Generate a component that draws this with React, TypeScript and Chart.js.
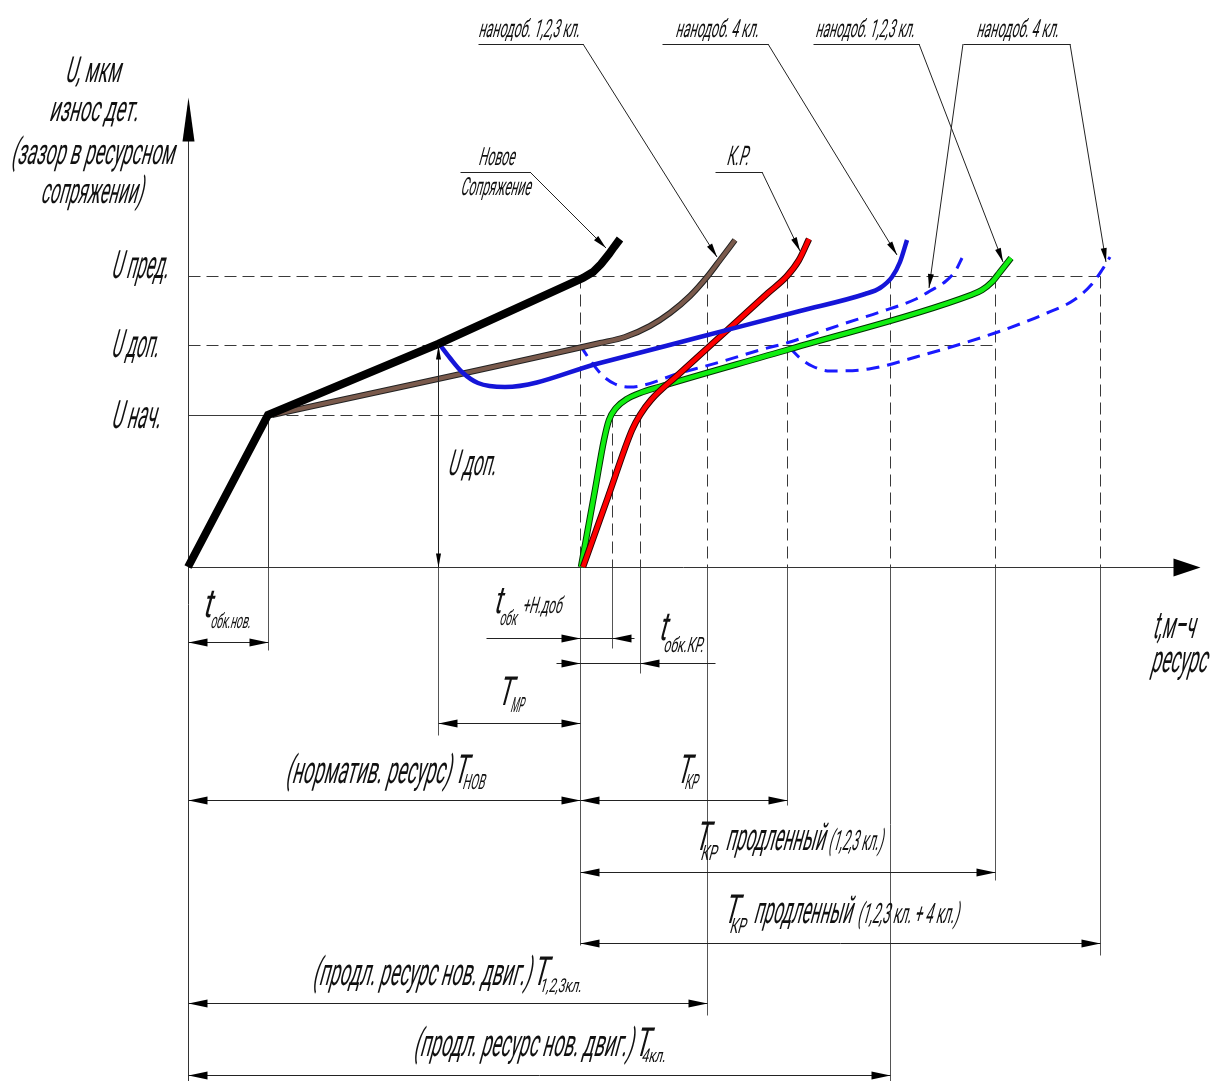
import React, { useEffect, useRef } from "react";
import { Chart, registerables } from "chart.js";

Chart.register(...registerables);

// ---------- characteristic wear levels U ----------
const U_NACH = 152;
const U_DOP = 222;
const U_PRED = 291;

// ---------- characteristic times t (resource) ----------
const T_OBK_NOV = 80;
const T_DOP = 250;
const T_NOV = 392;
const T_OBK_NDOB = 424;
const T_OBK_KR = 452;
const T_123 = 519;
const T_KP = 599;
const T_4 = 702;
const T_KP_123 = 807;
const T_KP_4 = 912;

// ---------- curves: wear U vs resource t ----------
// new mating pair (black)
const newT = [0, 80, 250, 395, 405, 413, 421, 426, 432];
const newU = [0, 152, 223, 289, 295, 303, 313, 320, 328];
// nano-additive 1,2,3 class on new engine (brown)
const brownT = [84, 412, 437, 462, 482, 502, 519, 532, 547];
const brownU = [152, 224, 230, 241, 254, 271, 290, 307, 327];
// nano-additive 4 class on new engine (solid blue)
const blueT = [252, 262, 274, 290, 317, 412, 512, 612, 677, 692, 704, 712, 719];
const blueU = [222, 209, 195, 184, 180, 204, 230, 256, 273, 279, 290, 305, 327];
// overhaul К.Р. (red)
const redT = [395, 420, 444, 452, 463, 491, 546, 580, 599, 611, 621];
const redU = [0, 70, 137, 152, 167, 193, 243, 274, 291, 307, 328];
// nano-additive 1,2,3 class after overhaul (green)
const greenT = [393, 407, 416, 421, 428, 439, 452, 471, 602, 783, 794, 804, 812, 823];
const greenU = [0, 77, 127, 147, 159, 168, 174, 180, 218, 272, 277, 285, 295, 309];
// nano-additive 4 class after overhaul (dashed blue 1)
const dash1T = [392, 402, 414, 427, 442, 492, 532, 572, 602, 652, 692, 728, 742, 758, 768, 774];
const dash1U = [222, 207, 192, 183, 180, 194, 205, 217, 225, 242, 255, 268, 276, 286, 297, 309];
// nano-additive 4 class after overhaul + 1,2,3 class (dashed blue 2)
const dash2T = [602, 612, 624, 642, 681, 728, 807, 859, 886, 904, 914, 922];
const dash2U = [219, 209, 201, 196, 198, 210, 234, 254, 267, 283, 297, 310];

// ---------- axis extents ----------
const T_MIN = -188;
const T_MAX = 1027;
const U_MIN = -514;
const U_MAX = 567;

// ---------- reference (construction) lines ----------
const hRefs = [
  { u: U_PRED, t1: 0, t2: T_KP_4, dashed: true },
  { u: U_DOP, t1: 0, t2: T_KP_123, dashed: true },
  { u: U_NACH, t1: 0, t2: T_OBK_NOV, dashed: false },
  { u: U_NACH, t1: T_OBK_NOV, t2: T_OBK_KR, dashed: true },
];
const vRefs = [
  { t: T_OBK_NOV, top: U_NACH, bottom: -83, dashedTop: false },
  { t: T_DOP, top: U_DOP, bottom: -168, dashedTop: true },
  { t: T_NOV, top: U_PRED, bottom: -378, dashedTop: true },
  { t: T_OBK_NDOB, top: U_NACH, bottom: -81, dashedTop: true },
  { t: T_OBK_KR, top: U_NACH, bottom: -106, dashedTop: true },
  { t: T_123, top: U_PRED, bottom: -448, dashedTop: true },
  { t: T_KP, top: U_PRED, bottom: -238, dashedTop: true },
  { t: T_4, top: U_PRED, bottom: -514, dashedTop: true },
  { t: T_KP_123, top: U_PRED, bottom: -313, dashedTop: true },
  { t: T_KP_4, top: U_PRED, bottom: -388, dashedTop: true },
];

// ---------- dimension lines ----------
const dims = [
  { u: -75, from: 0, to: T_OBK_NOV, arrows: [[0, -1], [T_OBK_NOV, 1]] },
  { u: -71, from: 298, to: 446, arrows: [[T_NOV, 1], [T_OBK_NDOB, -1]] },
  { u: -96, from: 368, to: 527, arrows: [[T_NOV, 1], [T_OBK_KR, -1]] },
  { u: -156, from: T_DOP, to: T_NOV, arrows: [[T_DOP, -1], [T_NOV, 1]] },
  { u: -233, from: 0, to: T_NOV, arrows: [[0, -1], [T_NOV, 1]] },
  { u: -233, from: T_NOV, to: T_KP, arrows: [[T_NOV, -1], [T_KP, 1]] },
  { u: -305, from: T_NOV, to: T_KP_123, arrows: [[T_NOV, -1], [T_KP_123, 1]] },
  { u: -376, from: T_NOV, to: T_KP_4, arrows: [[T_NOV, -1], [T_KP_4, 1]] },
  { u: -436, from: 0, to: T_123, arrows: [[0, -1], [T_123, 1]] },
  { u: -508, from: 0, to: T_4, arrows: [[0, -1], [T_4, 1]] },
];

// ---------- leader shelves and arrows ----------
const leaders = [
  { u: 395, s1: 272, s2: 342, lines: [[342, 418, 319]] },
  { u: 523, s1: 290, s2: 395, lines: [[395, 529, 310]] },
  { u: 523, s1: 474, s2: 580, lines: [[580, 709, 312]] },
  { u: 523, s1: 625, s2: 731, lines: [[731, 815, 305]] },
  { u: 523, s1: 775, s2: 882, lines: [[775, 741, 279], [882, 918, 305]] },
  { u: 395, s1: 527, s2: 574, lines: [[574, 612, 316]] },
];

// ---------- text labels: [text, t, U(baseline), fontSize, width, align] ----------
const labels: [string, number, number, number, number, string][] = [
  ["U, мкм", -96, 485, 36, 55, "center"],
  ["износ дет.", -95, 446, 36, 89, "center"],
  ["(зазор в ресурсном", -96, 403, 36, 163, "center"],
  ["сопряжении)", -97, 364, 36, 102, "center"],
  ["U пред.", -49, 289, 39, 57, "center"],
  ["U доп.", -54, 210, 39, 47, "center"],
  ["U нач.", -53, 139, 39, 49, "center"],
  ["U доп.", 259, 92, 36, 48, "left"],
  ["Новое", 290, 402, 25, 36, "left"],
  ["Сопряжение", 272, 372, 25, 70, "left"],
  ["нанодоб. 1,2,3 кл.", 290, 530, 25, 101, "left"],
  ["нанодоб. 4 кл.", 487, 530, 25, 83, "left"],
  ["нанодоб. 1,2,3 кл.", 627, 530, 25, 99, "left"],
  ["нанодоб. 4 кл.", 788, 530, 25, 82, "left"],
  ["К.Р.", 538, 402, 27, 22, "left"],
  ["t", 14, -50, 40, 9, "left"],
  ["обк.нов.", 22, -61, 21, 40, "left"],
  ["t", 305, -46, 38, 8, "left"],
  ["обк", 311, -58, 21, 17, "left"],
  ["+Н.доб", 334, -46, 23, 39, "left"],
  ["t", 470, -73, 40, 8, "left"],
  ["обк.КР.", 475, -85, 21, 40, "left"],
  ["T", 309, -138, 40, 14, "left"],
  ["МР", 322, -145, 21, 13, "left"],
  ["(норматив. ресурс)", 97, -216, 38, 165, "left"],
  ["T", 265, -216, 40, 13, "left"],
  ["НОВ", 274, -222, 21, 22, "left"],
  ["T", 488, -216, 40, 13, "left"],
  ["КР", 496, -222, 21, 13, "left"],
  ["T", 506, -283, 40, 14, "left"],
  ["КР", 512, -293, 21, 16, "left"],
  ["продленный", 537, -283, 38, 99, "left"],
  ["(1,2,3 кл.)", 640, -283, 28, 54, "left"],
  ["T", 535, -356, 40, 14, "left"],
  ["КР", 541, -366, 21, 16, "left"],
  ["продленный", 565, -356, 38, 98, "left"],
  ["(1,2,3 кл. + 4 кл.)", 669, -356, 28, 101, "left"],
  ["(продл. ресурс нов. двиг.)", 124, -418, 38, 218, "left"],
  ["T", 344, -418, 40, 14, "left"],
  ["1,2,3кл.", 351, -425, 19, 42, "left"],
  ["(продл. ресурс нов. двиг.)", 225, -489, 38, 219, "left"],
  ["T", 446, -489, 40, 14, "left"],
  ["4кл.", 453, -495, 19, 24, "left"],
  ["t,м–ч", 964, -71, 38, 42, "left"],
  ["ресурс", 962, -105, 38, 56, "left"],
];

const FONT = 'Roboto, "DejaVu Sans", sans-serif';
const SLANT = -0.27;

function pts(ts: number[], us: number[]) {
  return ts.map((t, i) => ({ x: t, y: us[i] }));
}

function arrowHead(ctx: CanvasRenderingContext2D, x: number, y: number, dx: number, dy: number, len: number, half: number) {
  const px = -dy, py = dx;
  ctx.beginPath();
  ctx.moveTo(x, y);
  ctx.lineTo(x - dx * len + px * half, y - dy * len + py * half);
  ctx.lineTo(x - dx * len - px * half, y - dy * len - py * half);
  ctx.closePath();
  ctx.fill();
}

function line(ctx: CanvasRenderingContext2D, x1: number, y1: number, x2: number, y2: number) {
  ctx.beginPath();
  ctx.moveTo(x1, y1);
  ctx.lineTo(x2, y2);
  ctx.stroke();
}

const drawingPlugin = {
  id: "drawing",
  beforeDatasetsDraw(chart: any) {
    const ctx: CanvasRenderingContext2D = chart.ctx;
    const X = (v: number) => Math.round(chart.scales.x.getPixelForValue(v)) + 0.5;
    const Y = (v: number) => Math.round(chart.scales.y.getPixelForValue(v)) + 0.5;
    ctx.save();
    ctx.lineWidth = 1;
    ctx.strokeStyle = "#3a3a3a";
    for (const r of hRefs) {
      ctx.setLineDash(r.dashed ? [12, 6] : []);
      line(ctx, X(r.t1), Y(r.u), X(r.t2), Y(r.u));
    }
    for (const v of vRefs) {
      ctx.setLineDash(v.dashedTop ? [12, 6] : []);
      line(ctx, X(v.t), Y(v.top), X(v.t), Y(0));
      ctx.setLineDash([]);
      ctx.strokeStyle = "#555";
      line(ctx, X(v.t), Y(0), X(v.t), Y(v.bottom));
      ctx.strokeStyle = "#3a3a3a";
    }
    ctx.setLineDash([]);
    // axes
    ctx.strokeStyle = "#333";
    line(ctx, X(0), Y(440), X(0), Y(U_MIN));
    line(ctx, X(0), Y(0), X(990), Y(0));
    ctx.fillStyle = "#000";
    arrowHead(ctx, X(0), Y(470), 0, -1, 44, 6);
    arrowHead(ctx, X(1012), Y(0), 1, 0, 27, 9);
    ctx.restore();
  },
  afterDatasetsDraw(chart: any) {
    const ctx: CanvasRenderingContext2D = chart.ctx;
    const Xr = (v: number) => chart.scales.x.getPixelForValue(v);
    const Yr = (v: number) => chart.scales.y.getPixelForValue(v);
    const X = (v: number) => Math.round(Xr(v)) + 0.5;
    const Y = (v: number) => Math.round(Yr(v)) + 0.5;
    ctx.save();
    ctx.lineWidth = 1;
    ctx.strokeStyle = "#222";
    ctx.fillStyle = "#000";
    // dimension lines
    for (const d of dims) {
      line(ctx, X(d.from), Y(d.u), X(d.to), Y(d.u));
      for (const [t, dir] of d.arrows) arrowHead(ctx, X(t), Y(d.u), dir, 0, 19, 4);
    }
    // vertical dimension U доп
    line(ctx, X(T_DOP), Y(0), X(T_DOP), Y(U_DOP));
    arrowHead(ctx, X(T_DOP), Y(U_DOP), 0, -1, 14, 2.5);
    arrowHead(ctx, X(T_DOP), Y(0), 0, 1, 14, 2.5);
    // leaders
    for (const l of leaders) {
      line(ctx, X(l.s1), Y(l.u), X(l.s2), Y(l.u));
      for (const [from, tt, tu] of l.lines) {
        const x1 = Xr(from), y1 = Yr(l.u), x2 = Xr(tt), y2 = Yr(tu);
        line(ctx, x1, y1, x2, y2);
        const len = Math.hypot(x2 - x1, y2 - y1);
        arrowHead(ctx, x2, y2, (x2 - x1) / len, (y2 - y1) / len, 14, 3);
      }
    }
    // labels
    ctx.fillStyle = "#111";
    ctx.textBaseline = "alphabetic";
    ctx.textAlign = "left";
    for (const [text, t, u, size, w, align] of labels) {
      ctx.font = `400 ${size}px ${FONT}`;
      const m = ctx.measureText(text).width;
      const sx = w / m;
      let x0 = Xr(t);
      if (align === "center") x0 -= w / 2;
      else if (align === "right") x0 -= w;
      ctx.save();
      ctx.setTransform(sx, 0, SLANT, 1, x0, Yr(u));
      ctx.fillText(text, 0, 0);
      ctx.restore();
    }
    ctx.restore();
  },
};

export default function App() {
  const ref = useRef<HTMLCanvasElement | null>(null);
  useEffect(() => {
    if (!ref.current) return;
    const base = { pointRadius: 0, fill: false, tension: 0 };
    const mono = { pointRadius: 0, fill: false, cubicInterpolationMode: "monotone" as const };
    const chart = new Chart(ref.current, {
      type: "line",
      data: {
        datasets: [
          { ...base, label: "Новое сопряжение", data: pts(newT, newU), borderColor: "#000", borderWidth: 8, borderCapStyle: "butt" },
          { ...mono, label: "нанодоб. 4 кл.", data: pts(blueT, blueU), borderColor: "#1515d8", borderWidth: 4.5 },
          { ...mono, label: "нанодоб. 1,2,3 кл.", data: pts(brownT, brownU), borderColor: "#7a5a4c", borderWidth: 4 },
          { ...mono, label: "", data: pts(brownT, brownU), borderColor: "#222", borderWidth: 6 },
          { ...mono, label: "К.Р.", data: pts(redT, redU), borderColor: "#ff0000", borderWidth: 4.5 },
          { ...mono, label: "", data: pts(redT, redU), borderColor: "#300", borderWidth: 6.5 },
          { ...mono, label: "нанодоб. 1,2,3 кл. (К.Р.)", data: pts(greenT, greenU), borderColor: "#11ee11", borderWidth: 4.5 },
          { ...mono, label: "", data: pts(greenT, greenU), borderColor: "#030", borderWidth: 6.5 },
          { ...mono, label: "нанодоб. 4 кл. (К.Р.)", data: pts(dash1T, dash1U), borderColor: "#1a1aff", borderWidth: 3, borderDash: [13, 8] },
          { ...mono, label: "нанодоб. 4 кл. (К.Р. + 1,2,3)", data: pts(dash2T, dash2U), borderColor: "#1a1aff", borderWidth: 3, borderDash: [13, 8] },
        ],
      },
      options: {
        animation: false,
        responsive: false,
        maintainAspectRatio: false,
        layout: { padding: 0 },
        plugins: { legend: { display: false }, tooltip: { enabled: false } },
        events: [],
        scales: {
          x: { type: "linear", min: T_MIN, max: T_MAX, display: false },
          y: { type: "linear", min: U_MIN, max: U_MAX, display: false },
        },
      },
      plugins: [drawingPlugin],
    });
    return () => chart.destroy();
  }, []);
  return (
    <div style={{ position: "absolute", left: 0, top: 0, width: 1215, height: 1081, background: "#fff" }}>
      <canvas ref={ref} width={1215} height={1081} style={{ display: "block", width: 1215, height: 1081 }} />
    </div>
  );
}
